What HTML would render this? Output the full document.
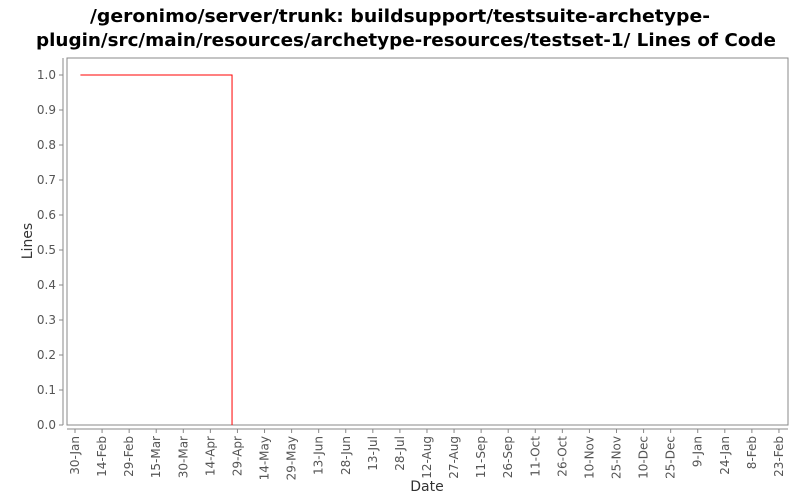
<!DOCTYPE html>
<html><head><meta charset="utf-8"><style>
body{margin:0;background:#fff;width:800px;height:500px;overflow:hidden;font-family:"Liberation Sans","DejaVu Sans",sans-serif}
</style></head><body>
<svg width="800" height="500" style="display:block">
<text x="400" y="22" text-anchor="middle" font-size="18" font-weight="bold" fill="#000" font-family="DejaVu Sans,sans-serif" textLength="620" lengthAdjust="spacingAndGlyphs">/geronimo/server/trunk: buildsupport/testsuite-archetype-</text>
<text x="406" y="46" text-anchor="middle" font-size="18" font-weight="bold" fill="#000" font-family="DejaVu Sans,sans-serif" textLength="740" lengthAdjust="spacingAndGlyphs">plugin/src/main/resources/archetype-resources/testset-1/ Lines of Code</text>
<rect x="67" y="58" width="721" height="367" fill="#fff" stroke="#888"/>
<g id="yaxis"></g>
<g id="xaxis"></g>
<g id="series"></g>
<text x="32" y="241" transform="rotate(-90 32 241)" text-anchor="middle" font-size="14" fill="#333" font-family="DejaVu Sans,sans-serif">Lines</text>
<text x="427" y="491" text-anchor="middle" font-size="14" fill="#333" font-family="DejaVu Sans,sans-serif">Date</text>
</svg>
<script>
const yTicks=[0,0.1,0.2,0.3,0.4,0.5,0.6,0.7,0.8,0.9,1.0];
const xTickLabels=["30-Jan","14-Feb","29-Feb","15-Mar","30-Mar","14-Apr","29-Apr","14-May","29-May","13-Jun","28-Jun","13-Jul","28-Jul","12-Aug","27-Aug","11-Sep","26-Sep","11-Oct","26-Oct","10-Nov","25-Nov","10-Dec","25-Dec","9-Jan","24-Jan","8-Feb","23-Feb"];
const seriesDates=["2008-02-02","2008-04-26","2008-04-26"];
const seriesValues=[1,1,0];
const NS="http://www.w3.org/2000/svg";
const DAY=86400000, t0=Date.UTC(2008,0,30);
function xs(t){return 75+(t-t0)/DAY*1.805;}
function ys(v){return 425-350*v;}
function mk(tag,attrs,parent){const e=document.createElementNS(NS,tag);for(const k in attrs)e.setAttribute(k,attrs[k]);parent.appendChild(e);return e;}
const ya=document.getElementById('yaxis'),xa=document.getElementById('xaxis'),se=document.getElementById('series');
mk('line',{x1:63,y1:58,x2:63,y2:425,stroke:'#888'},ya);
yTicks.forEach(v=>{
 const l=mk('line',{x1:59,y1:ys(v),x2:63,y2:ys(v),stroke:'#888'},ya);
 
 
 const t=mk('text',{x:56,y:ys(v)+4,'text-anchor':'end','font-size':12,fill:'#555','font-family':'DejaVu Sans,sans-serif'},ya);
 t.textContent=v.toFixed(1);
 
 
});
mk('line',{x1:67,y1:429,x2:788,y2:429,stroke:'#888'},xa);
xTickLabels.forEach((s,i)=>{
 const x=xs(t0+i*15*DAY);
 const l=mk('line',{x1:x,y1:429,x2:x,y2:433,stroke:'#888'},xa);
 
 
 const t=mk('text',{x:x+4,y:436,'text-anchor':'end','font-size':12,fill:'#555','font-family':'DejaVu Sans,sans-serif',transform:`rotate(-90 ${x+4} 436)`},xa);
 t.textContent=s;
 
 
});
let d='';
seriesDates.forEach((s,i)=>{const p=s.split('-');const t=Date.UTC(+p[0],+p[1]-1,+p[2]);d+=(i?'L':'M')+xs(t)+' '+ys(seriesValues[i]);});
const p=mk('path',{d:d,fill:'none',stroke:'#ff0000','stroke-width':1},se);


</script>
</body></html>
